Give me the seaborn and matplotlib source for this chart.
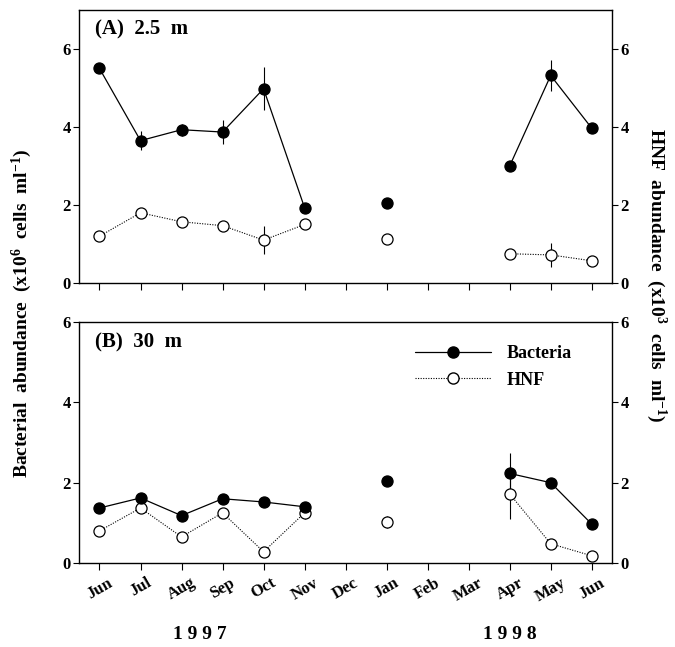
import numpy as np
import pandas as pd
import matplotlib
matplotlib.use("Agg")
import matplotlib.pyplot as plt
import seaborn as sns
from matplotlib.lines import Line2D

months = ["Jun", "Jul", "Aug", "Sep", "Oct", "Nov", "Dec",
          "Jan", "Feb", "Mar", "Apr", "May", "Jun"]
nan = np.nan

# (A) 2.5 m
bact_a = [5.50, 3.65, 3.93, 3.87, 4.98, 1.93, nan, 2.05, nan, nan, 3.00, 5.32, 3.97]
bact_a_err = [0.05, 0.25, 0.15, 0.30, 0.55, 0.05, nan, 0.05, nan, nan, 0.05, 0.40, 0.12]
hnf_a = [1.20, 1.80, 1.57, 1.47, 1.10, 1.50, nan, 1.13, nan, nan, 0.75, 0.72, 0.57]
hnf_a_err = [0.05, 0.05, 0.10, 0.08, 0.35, 0.05, nan, 0.10, nan, nan, 0.05, 0.30, 0.05]

# (B) 30 m
bact_b = [1.37, 1.62, 1.18, 1.60, 1.52, 1.40, nan, 2.03, nan, nan, 2.23, 2.00, 0.97]
bact_b_err = [0.05, 0.05, 0.05, 0.05, 0.05, 0.05, nan, 0.05, nan, nan, 0.50, 0.08, 0.05]
hnf_b = [0.80, 1.37, 0.65, 1.25, 0.28, 1.25, nan, 1.02, nan, nan, 1.72, 0.48, 0.18]
hnf_b_err = [0.05, 0.05, 0.05, 0.05, 0.05, 0.15, nan, 0.15, nan, nan, 0.62, 0.05, 0.05]

# segments separated by missing months
segment = [0, 0, 0, 0, 0, 0, -1, 1, -1, -1, 2, 2, 2]

sns.set_style("white")
plt.rcParams['font.family'] = ['Liberation Serif', 'DejaVu Serif']
plt.rcParams['font.weight'] = 'bold'
plt.rcParams['axes.labelweight'] = 'bold'
plt.rcParams['text.color'] = 'black'
plt.rcParams['xtick.color'] = 'black'
plt.rcParams['ytick.color'] = 'black'
plt.rcParams['mathtext.fontset'] = 'custom'
plt.rcParams['mathtext.rm'] = 'Liberation Serif:bold'
plt.rcParams['mathtext.bf'] = 'Liberation Serif:bold'
plt.rcParams['mathtext.default'] = 'rm'

fig = plt.figure(figsize=(6.75, 6.47), dpi=100)
ax_a = fig.add_axes([0.117, 0.5626, 0.790, 0.4220])
ax_b = fig.add_axes([0.117, 0.1298, 0.790, 0.3725])

x = np.arange(len(months))
DOT = (0, (1, 1.3))


def draw(ax, vals, errs, filled, dotted):
    df = pd.DataFrame({"x": x, "v": vals, "seg": segment}).dropna()
    df = df[df.seg >= 0]
    sns.lineplot(data=df, x="x", y="v", units="seg", estimator=None, ax=ax,
                 color="black", lw=0.9 if not dotted else 0.8,
                 ls=DOT if dotted else "-",
                 marker="o", markersize=8,
                 markerfacecolor="black" if filled else "white",
                 markeredgecolor="black", markeredgewidth=0.9, zorder=3)
    ax.errorbar(x, vals, yerr=errs, fmt="none", ecolor="black",
                elinewidth=0.8, capsize=0, zorder=2)


draw(ax_a, hnf_a, hnf_a_err, False, True)
draw(ax_a, bact_a, bact_a_err, True, False)
draw(ax_b, hnf_b, hnf_b_err, False, True)
draw(ax_b, bact_b, bact_b_err, True, False)

for ax, top in [(ax_a, 7), (ax_b, 6)]:
    ax.set_xlim(-0.5, 12.5)
    ax.set_ylim(0, top)
    ax.set_yticks([0, 2, 4, 6])
    ax.set_xticks(x)
    ax.set_xlabel("")
    ax.set_ylabel("")
    ax.tick_params(axis="y", which="both", left=True, right=True,
                   labelleft=True, labelright=True, direction="out",
                   length=4, width=0.8, labelsize=12, pad=2)
    ax.tick_params(axis="x", bottom=True, direction="out", length=5,
                   width=0.8)
    for s in ax.spines.values():
        s.set_linewidth(1.0)
        s.set_color("black")

ax_a.set_xticklabels([])
ax_b.set_xticklabels(months, rotation=30, fontsize=12, fontweight="bold")

ax_a.text(0.03, 0.965, "(A)  2.5  m", transform=ax_a.transAxes,
          fontsize=15, fontweight="bold", va="top")
ax_b.text(0.03, 0.955, "(B)  30  m", transform=ax_b.transAxes,
          fontsize=15, fontweight="bold", va="top")

handles = [
    Line2D([], [], color="black", lw=0.9, marker="o", markersize=8,
           markerfacecolor="black", markeredgecolor="black"),
    Line2D([], [], color="black", lw=0.8, ls=DOT, marker="o", markersize=8,
           markerfacecolor="white", markeredgecolor="black"),
]
ax_b.legend(handles, ["Bacteria", "HNF"], loc="upper right",
            bbox_to_anchor=(0.955, 0.97), frameon=False, handlelength=4.2,
            numpoints=1, prop={"weight": "bold", "size": 13},
            handletextpad=0.9, labelspacing=0.5)

fig.text(0.032, 0.515, "Bacterial  abundance  (x10$^{6}$  cells  ml$^{-1}$)",
         rotation=90, ha="center", va="center", fontsize=14,
         fontweight="bold")
fig.text(0.972, 0.575, "HNF  abundance  (x10$^{3}$  cells  ml$^{-1}$)",
         rotation=270, ha="center", va="center", fontsize=14,
         fontweight="bold")

fig.text(0.296, 0.02, "1 9 9 7", ha="center", va="center", fontsize=14,
         fontweight="bold")
fig.text(0.756, 0.02, "1 9 9 8", ha="center", va="center", fontsize=14,
         fontweight="bold")

fig.savefig("out.png", dpi=100)
plt.close()
